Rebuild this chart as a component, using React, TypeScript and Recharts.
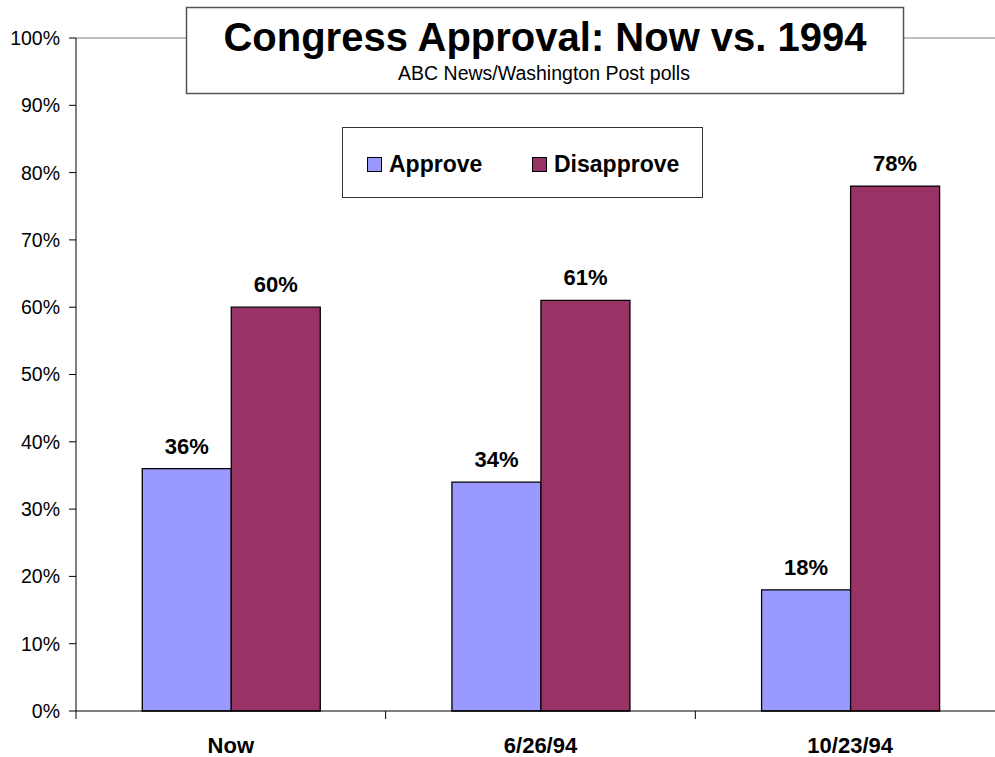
import {
  BarChart,
  Bar,
  XAxis,
  YAxis,
  LabelList,
  ReferenceLine,
} from "recharts";

const categories = ["Now", "6/26/94", "10/23/94"];
const approve = [36, 34, 18];
const disapprove = [60, 61, 78];
const yTicks = [0, 10, 20, 30, 40, 50, 60, 70, 80, 90, 100];

const seriesNames = ["Approve", "Disapprove"];
const seriesColors = ["#9999FF", "#993366"];

const data = categories.map((c, i) => ({
  name: c,
  Approve: approve[i],
  Disapprove: disapprove[i],
}));

const font = "Arial, 'Liberation Sans', sans-serif";

const W = 1020;
const H = 757;
const margin = { top: 38, right: 15, left: 0, bottom: 0 };
const yAxisW = 76;
const xAxisH = 46;
const labelGap = 26;

const pct = (v: any) => `${v}%`;

// category label plus tick marks on the band edges (Excel style)
const CategoryTick = (props: any) => {
  const { x, y, payload, index } = props;
  const band = (W - margin.right - margin.left - yAxisW) / categories.length;
  const axisY = y - labelGap;
  return (
    <g>
      <line x1={x - band / 2} x2={x - band / 2} y1={axisY} y2={axisY + 8} stroke="#000" />
      {index === categories.length - 1 && (
        <line x1={x + band / 2} x2={x + band / 2} y1={axisY} y2={axisY + 8} stroke="#000" />
      )}
      <text
        x={x}
        y={y}
        dy="0.71em"
        textAnchor="middle"
        fill="#000"
        fontSize={22}
        fontWeight="bold"
        fontFamily={font}
      >
        {payload.value}
      </text>
    </g>
  );
};

export default function App() {
  return (
    <div style={{ position: "relative", width: 995, height: 757, overflow: "hidden", background: "#fff" }}>
      <style>{"body{margin:0;overflow:hidden}"}</style>
      <BarChart
        width={W}
        height={H}
        data={data}
        margin={margin}
        barGap={0}
        barCategoryGap="21.4%"
      >
        <ReferenceLine y={100} stroke="#808080" strokeWidth={1} />
        <XAxis
          dataKey="name"
          height={xAxisH}
          tickLine={false}
          tickSize={0}
          tickMargin={labelGap}
          axisLine={{ stroke: "#000" }}
          tick={<CategoryTick />}
        />
        <YAxis
          width={yAxisW}
          domain={[0, 100]}
          ticks={yTicks}
          interval={0}
          tickFormatter={pct}
          tickSize={7}
          tickMargin={9}
          axisLine={{ stroke: "#000" }}
          tickLine={{ stroke: "#000" }}
          tick={{ fill: "#000", fontSize: 19.5, fontFamily: font }}
        />
        <Bar dataKey="Approve" fill={seriesColors[0]} stroke="#000" strokeWidth={1.3} isAnimationActive={false}>
          <LabelList
            dataKey="Approve"
            position="top"
            offset={15}
            formatter={pct}
            style={{ fill: "#000", fontSize: 22, fontWeight: "bold", fontFamily: font }}
          />
        </Bar>
        <Bar dataKey="Disapprove" fill={seriesColors[1]} stroke="#000" strokeWidth={1.3} isAnimationActive={false}>
          <LabelList
            dataKey="Disapprove"
            position="top"
            offset={15}
            formatter={pct}
            style={{ fill: "#000", fontSize: 22, fontWeight: "bold", fontFamily: font }}
          />
        </Bar>
      </BarChart>
      <svg
        width={995}
        height={757}
        style={{ position: "absolute", left: 0, top: 0, pointerEvents: "none" }}
      >
        <rect x={186.5} y={7.5} width={717} height={86} fill="#fff" stroke="#555" strokeWidth={1.5} />
        <text x={545} y={51} textAnchor="middle" fontFamily={font} fontSize={40} fontWeight="bold" fill="#000">
          Congress Approval: Now vs. 1994
        </text>
        <text x={544} y={80} textAnchor="middle" fontFamily={font} fontSize={19.5} fill="#000">
          ABC News/Washington Post polls
        </text>
        <rect x={342.5} y={127.5} width={360} height={70} fill="#fff" stroke="#333" strokeWidth={1} />
        {seriesNames.map((n, i) => {
          const x0 = i === 0 ? 367 : 532;
          return (
            <g key={n}>
              <rect x={x0 + 0.5} y={157.5} width={14} height={14} fill={seriesColors[i]} stroke="#000" strokeWidth={1} />
              <text x={x0 + 22} y={172} fontFamily={font} fontSize={23} fontWeight="bold" fill="#000">
                {n}
              </text>
            </g>
          );
        })}
      </svg>
    </div>
  );
}
